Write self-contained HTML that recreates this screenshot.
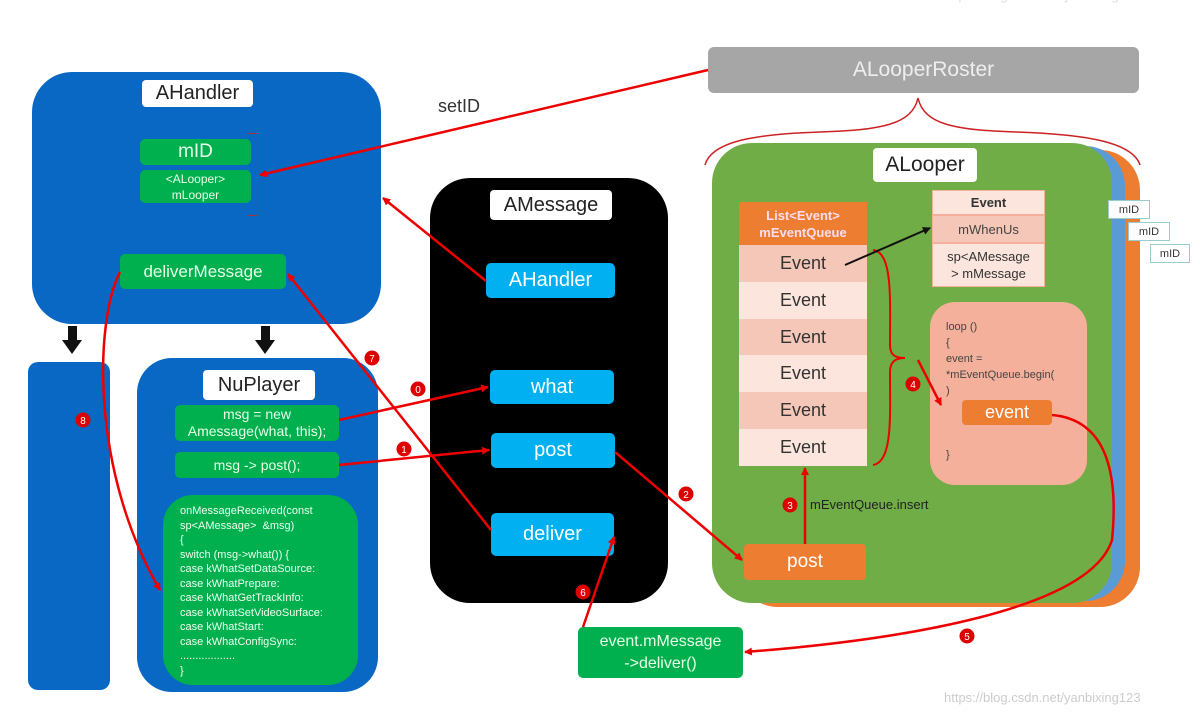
<!DOCTYPE html>
<html><head><meta charset="utf-8"><style>
body{margin:0;width:1200px;height:728px;background:#fff;position:relative;overflow:hidden;font-family:"Liberation Sans","DejaVu Sans",sans-serif}
div{position:absolute;box-sizing:border-box}
.c{display:flex;align-items:center;justify-content:center;text-align:center}
.blue{background:#0868c4}
.g{background:#00b04f;color:#e8ffe8;border-radius:5px}
.cy{background:#00b0f0;color:#fff;border-radius:5px;font-size:20px}
.wt{background:#fff;color:#222;border-radius:4px;font-size:20px}
.ev{left:739px;width:128px;height:36.7px;font-size:18px;color:#333}
.mid{background:#fff;border:1px solid #9cc;font-size:11px;color:#333}
</style></head><body>
<div style="left:944px;top:-12px;font-size:13px;color:#ddd">https://blog.csdn.net/yanbixing123</div>
<div class="c" style="left:708px;top:47px;width:431px;height:46px;background:#a6a6a6;border-radius:6px;color:#eee;font-size:21px">ALooperRoster</div>
<div style="left:438px;top:96px;font-size:18px;color:#333">setID</div>

<div class="blue" style="left:32px;top:72px;width:349px;height:252px;border-radius:40px"></div>
<div class="c wt" style="left:142px;top:80px;width:111px;height:27px">AHandler</div>
<div class="c g" style="left:140px;top:139px;width:111px;height:26px;font-size:19px">mID</div>
<div class="c g" style="left:140px;top:170px;width:111px;height:33px;font-size:12px;line-height:16px">&lt;ALooper&gt;<br>mLooper</div>
<div style="left:248px;top:133px;width:10px;height:83px;border:1.5px solid #a33;border-left:none"></div>
<div class="c g" style="left:120px;top:254px;width:166px;height:35px;font-size:17px">deliverMessage</div>

<div class="blue" style="left:28px;top:362px;width:82px;height:328px;border-radius:10px"></div>
<div class="blue" style="left:137px;top:358px;width:241px;height:334px;border-radius:35px"></div>
<div class="c wt" style="left:203px;top:370px;width:112px;height:30px">NuPlayer</div>
<div class="c g" style="left:175px;top:405px;width:164px;height:36px;font-size:14px;line-height:17px">msg = new<br>Amessage(what, this);</div>
<div class="c g" style="left:175px;top:452px;width:164px;height:26px;font-size:14px">msg -&gt; post();</div>
<div class="g" style="left:163px;top:495px;width:195px;height:190px;border-radius:30px;font-size:11px;line-height:14.5px;padding:9px 0 0 17px;color:#eefeee">onMessageReceived(const<br>sp&lt;AMessage&gt; &nbsp;&amp;msg)<br>{<br>switch (msg-&gt;what()) {<br>case kWhatSetDataSource:<br>case kWhatPrepare:<br>case kWhatGetTrackInfo:<br>case kWhatSetVideoSurface:<br>case kWhatStart:<br>case kWhatConfigSync:<br>..................<br>}</div>

<div style="left:430px;top:178px;width:238px;height:425px;background:#000;border-radius:40px"></div>
<div class="c wt" style="left:490px;top:190px;width:122px;height:30px">AMessage</div>
<div class="c cy" style="left:486px;top:263px;width:129px;height:35px">AHandler</div>
<div class="c cy" style="left:490px;top:370px;width:124px;height:34px">what</div>
<div class="c cy" style="left:491px;top:433px;width:124px;height:35px">post</div>
<div class="c cy" style="left:491px;top:513px;width:123px;height:43px">deliver</div>

<div style="left:738px;top:150px;width:402px;height:457px;background:#ed7d31;border-radius:40px"></div>
<div style="left:725px;top:146px;width:400px;height:455px;background:#5b9bd5;border-radius:40px"></div>
<div style="left:712px;top:143px;width:400px;height:460px;background:#70ad47;border-radius:40px"></div>
<div class="c wt" style="left:873px;top:148px;width:104px;height:34px;font-size:21px">ALooper</div>
<div class="c mid" style="left:1108px;top:200px;width:42px;height:19px">mID</div>
<div class="c mid" style="left:1128px;top:222px;width:42px;height:19px">mID</div>
<div class="c mid" style="left:1150px;top:244px;width:40px;height:19px">mID</div>

<div class="c" style="left:739px;top:202px;width:128px;height:43px;background:#ed7d31;color:#fde;font-size:13px;font-weight:bold;line-height:17px">List&lt;Event&gt;<br>mEventQueue</div>
<div class="c ev" style="top:245px;background:#f4c7b8">Event</div>
<div class="c ev" style="top:282px;background:#fbe5dd">Event</div>
<div class="c ev" style="top:319px;background:#f4c7b8">Event</div>
<div class="c ev" style="top:355px;background:#fbe5dd">Event</div>
<div class="c ev" style="top:392px;background:#f4c7b8">Event</div>
<div class="c ev" style="top:429px;background:#fbe5dd">Event</div>

<div class="c" style="left:932px;top:190px;width:113px;height:25px;background:#fbe5dd;border:1px solid #f4b09a;font-size:13px;font-weight:bold;color:#333">Event</div>
<div class="c" style="left:932px;top:215px;width:113px;height:28px;background:#f4c7b8;border:1px solid #f4b09a;font-size:13px;color:#444">mWhenUs</div>
<div class="c" style="left:932px;top:243px;width:113px;height:44px;background:#fbe5dd;border:1px solid #f4b09a;font-size:13px;color:#333;line-height:17px">sp&lt;AMessage<br>&gt; mMessage</div>

<div style="left:930px;top:302px;width:157px;height:183px;background:#f4b09a;border-radius:25px;font-size:11px;color:#444;line-height:16px;padding:17px 0 0 16px">loop ()<br>{<br>event =<br>*mEventQueue.begin(<br>)<br><br><br><br>}</div>
<div class="c" style="left:962px;top:400px;width:90px;height:25px;background:#ed7d31;color:#fff;font-size:18px;border-radius:4px">event</div>

<div class="c" style="left:744px;top:544px;width:122px;height:36px;background:#ed7d31;color:#fff;font-size:19px;border-radius:4px">post</div>
<div style="left:810px;top:497px;font-size:13px;color:#222">mEventQueue.insert</div>
<div class="c g" style="left:578px;top:627px;width:165px;height:51px;font-size:16px;line-height:22px">event.mMessage<br>-&gt;deliver()</div>

<div style="left:944px;top:690px;font-size:13px;color:#ccc">https://blog.csdn.net/yanbixing123</div>

<svg width="1200" height="728" style="position:absolute;left:0;top:0">
<defs>
<marker id="a" markerWidth="8" markerHeight="8" refX="7" refY="4" orient="auto" markerUnits="userSpaceOnUse"><path d="M0,0 L8,4 L0,8 z" fill="#e00"/></marker>
<marker id="k" markerWidth="8" markerHeight="8" refX="7" refY="4" orient="auto" markerUnits="userSpaceOnUse"><path d="M0,0 L8,4 L0,8 z" fill="#111"/></marker>
</defs>
<g stroke="#e00" stroke-width="2.5" fill="none">
<path d="M708,70 L260,175" marker-end="url(#a)"/>
<path d="M486,281 L383,198" marker-end="url(#a)"/>
<path d="M491,530 L288,274" marker-end="url(#a)"/>
<path d="M339,420 L488,387" marker-end="url(#a)"/>
<path d="M339,465 L489,450" marker-end="url(#a)"/>
<path d="M615,452 L742,560" marker-end="url(#a)"/>
<path d="M805,544 L805,468" marker-end="url(#a)"/>
<path d="M918,360 L941,405" marker-end="url(#a)"/>
<path d="M1052,415 C1110,420 1118,480 1112,540 C1090,610 900,640 745,652" marker-end="url(#a)"/>
<path d="M583,627 L614,537" marker-end="url(#a)"/>
<path d="M120,272 C95,320 90,470 160,590" marker-end="url(#a)"/>
<path d="M873,250 C893,252 890,300 890,345 C890,355 895,358 905,358 C895,358 890,362 890,372 C890,415 893,462 873,465" stroke-width="2"/>
<path d="M705,165 C712,140 760,134 820,132 C880,130 912,125 918,98 C924,125 956,130 1016,132 C1076,134 1132,140 1140,165" stroke-width="1.5" stroke="#c22"/>
</g>
<path d="M845,265 L930,228" stroke="#111" stroke-width="2" marker-end="url(#k)"/>
<g fill="#111"><rect x="68" y="326" width="9" height="16"/><path d="M62,340 L82,340 L72,354 z"/><rect x="261" y="326" width="9" height="16"/><path d="M255,340 L275,340 L265,354 z"/></g>
<g font-size="10" fill="#fff" text-anchor="middle">
<circle cx="418" cy="389" r="7.5" fill="#d00"/><text x="418" y="393">0</text>
<circle cx="404" cy="449" r="7.5" fill="#d00"/><text x="404" y="453">1</text>
<circle cx="686" cy="494" r="7.5" fill="#d00"/><text x="686" y="498">2</text>
<circle cx="790" cy="505" r="7.5" fill="#d00"/><text x="790" y="509">3</text>
<circle cx="913" cy="384" r="7.5" fill="#d00"/><text x="913" y="388">4</text>
<circle cx="967" cy="636" r="7.5" fill="#d00"/><text x="967" y="640">5</text>
<circle cx="583" cy="592" r="7.5" fill="#d00"/><text x="583" y="596">6</text>
<circle cx="372" cy="358" r="7.5" fill="#d00"/><text x="372" y="362">7</text>
<circle cx="83" cy="420" r="7.5" fill="#d00"/><text x="83" y="424">8</text>
</g>
</svg>
</body></html>
